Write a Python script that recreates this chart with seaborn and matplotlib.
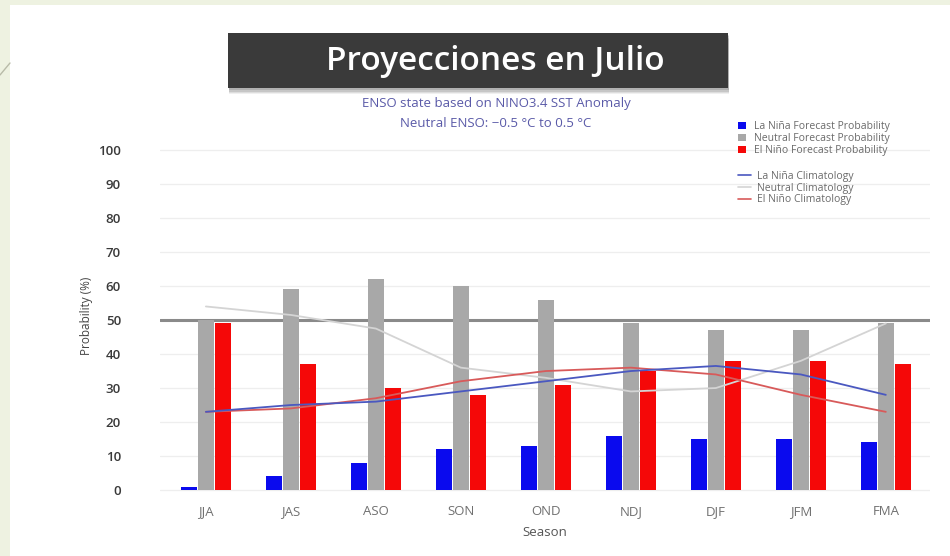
import numpy as np
import pandas as pd
import matplotlib
matplotlib.use("Agg")
import matplotlib.pyplot as plt
from matplotlib.patches import Rectangle, Patch
from matplotlib.lines import Line2D
import seaborn as sns

seasons = ["JJA", "JAS", "ASO", "SON", "OND", "NDJ", "DJF", "JFM", "FMA"]
la_nina = [1, 4, 8, 12, 13, 16, 15, 15, 14]
neutral = [50, 59, 62, 60, 56, 49, 47, 47, 49]
el_nino = [49, 37, 30, 28, 31, 35, 38, 38, 37]
la_nina_clim = [23, 25, 26, 29, 32, 35, 36.5, 34, 28]
neutral_clim = [54, 51.5, 47.5, 36, 33, 29, 30, 38, 49]
el_nino_clim = [23, 24, 27, 32, 35, 36, 34, 28, 23]
yticks = [0, 10, 20, 30, 40, 50, 60, 70, 80, 90, 100]

bar_names = ["La Niña Forecast Probability", "Neutral Forecast Probability", "El Niño Forecast Probability"]
bar_colors = ["#0a0aee", "#a8a8a8", "#f50808"]
clim_names = ["La Niña Climatology", "Neutral Climatology", "El Niño Climatology"]
clim_colors = ["#4a58c0", "#d4d4d4", "#d85a5a"]

df = pd.DataFrame({
    "Season": seasons * 3,
    "Prob": la_nina + neutral + el_nino,
    "Type": [bar_names[0]] * 9 + [bar_names[1]] * 9 + [bar_names[2]] * 9,
})

sns.set_theme(style="white")
plt.rcParams["font.family"] = ["Open Sans", "DejaVu Sans"]

fig = plt.figure(figsize=(9.5, 5.56), dpi=100)
fig.patch.set_facecolor("#eef2e1")
# white panel
fig.patches.append(Rectangle((10 / 950, 0), 1, 1 - 5 / 556, transform=fig.transFigure,
                             facecolor="white", edgecolor="none", zorder=-5))
fig.lines.append(Line2D([0, 10 / 950], [1 - 75 / 556, 1 - 63 / 556], transform=fig.transFigure,
                        color="#b8bba8", lw=1, zorder=-4))

ax = fig.add_axes([160 / 950, 0.1095, 770 / 950, 0.645])
ax.set_facecolor("none")
ax.set_zorder(5)

sns.barplot(data=df, x="Season", y="Prob", hue="Type", palette=bar_colors,
            width=0.6, gap=0.08, saturation=1, linewidth=0, ax=ax, legend=False, zorder=3)

xs = np.arange(len(seasons))
for vals, c in zip([neutral_clim, el_nino_clim, la_nina_clim], [clim_colors[1], clim_colors[2], clim_colors[0]]):
    sns.lineplot(x=xs, y=vals, color=c, lw=1.3, ax=ax, zorder=4)

ax.axhline(50, color="#8a8a8a", lw=2.2, zorder=2)
for t in yticks:
    ax.axhline(t, color="#eeeeee", lw=0.9, zorder=1)

ax.set_xlim(-0.54, 8.52)
ax.set_ylim(-1.5, 104)
ax.set_yticks(yticks)
ax.set_yticklabels([str(t) for t in yticks], fontsize=9.5, color="#3a3a3a", fontweight="semibold")
ax.set_xticks(xs)
ax.set_xticklabels(seasons, fontsize=9.5, color="#707070")
ax.tick_params(axis="both", length=0, pad=7)
ax.tick_params(axis="y", pad=28)
for s in ax.spines.values():
    s.set_visible(False)
ax.set_xlabel("Season", fontsize=9.5, color="#555555", labelpad=6)
ax.set_ylabel("Probability (%)", fontsize=8.5, color="#444444", labelpad=4)

# legend
h1 = [Patch(facecolor=c, edgecolor="none") for c in bar_colors]
leg1 = ax.legend(h1, bar_names, loc="upper left", bbox_to_anchor=(571 / 770, 1.063), frameon=False,
                 fontsize=7.5, handlelength=0.7, handleheight=0.7, handletextpad=0.8,
                 labelspacing=0.08, labelcolor="#6a6a6a", borderpad=0.2)
ax.add_artist(leg1)
h2 = [Line2D([0], [0], color=c, lw=1.2) for c in clim_colors]
ax.legend(h2, clim_names, loc="upper left", bbox_to_anchor=(571 / 770, 0.925), frameon=False,
          fontsize=7.5, handlelength=1.2, handletextpad=0.6, labelspacing=0.08,
          labelcolor="#6a6a6a", borderpad=0.2)

# title box with shadow
for i, a in enumerate([0.10, 0.10, 0.08, 0.06]):
    fig.patches.append(Rectangle(((228 + 1) / 950, 1 - (88 + 2 + i * 1.5) / 556), 500 / 950, 55 / 556,
                                 transform=fig.transFigure, facecolor="#000000", alpha=a,
                                 edgecolor="none", zorder=1))
fig.patches.append(Rectangle((228 / 950, 1 - 88 / 556), 500 / 950, 55 / 556,
                             transform=fig.transFigure, facecolor="#3a3a3a", edgecolor="none", zorder=2))
fig.text(495 / 950, 1 - 61 / 556, "Proyecciones en Julio", ha="center", va="center",
         fontsize=24, color="white", fontweight="semibold", zorder=3)

fig.text(496 / 950, 1 - 103 / 556, "ENSO state based on NINO3.4 SST Anomaly", ha="center", va="center",
         fontsize=9.5, color="#5a5aa8")
fig.text(496 / 950, 1 - 124 / 556, "Neutral ENSO: −0.5 °C to 0.5 °C", ha="center", va="center",
         fontsize=9.5, color="#5a5aa8")

fig.savefig("out.png", dpi=100, facecolor=fig.get_facecolor())
